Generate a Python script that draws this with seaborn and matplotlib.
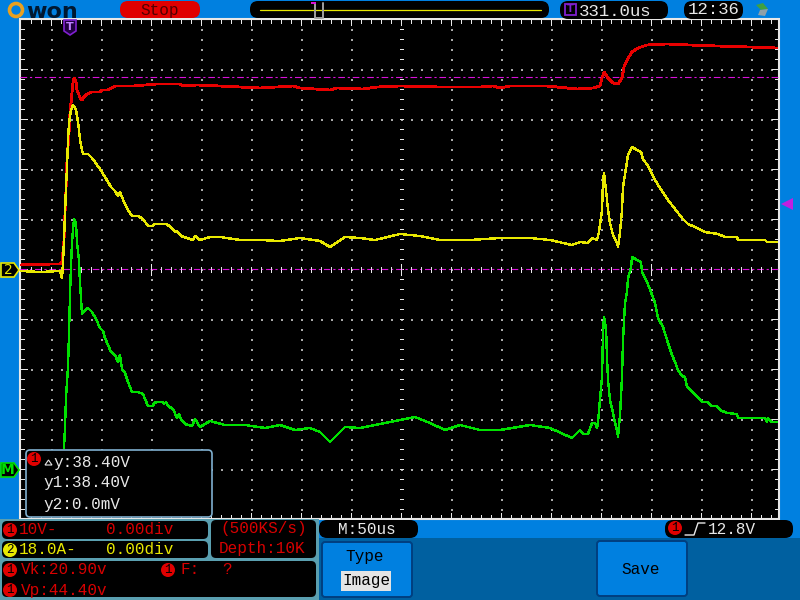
import matplotlib
matplotlib.use("Agg")
import matplotlib.pyplot as plt
import seaborn as sns
from matplotlib.patches import Rectangle, FancyBboxPatch, Circle, Polygon

# Trace readings, in screen pixels of the scope capture
red_x = [21, 30, 40, 50, 60, 62, 64, 65, 66, 67, 69, 70, 72, 73, 74, 76, 77, 79, 81, 82, 84, 87, 92, 100, 102, 108, 115,
         133, 157, 167, 180, 183, 197, 220, 240, 260, 293, 300, 330, 337, 363, 377, 400, 440, 480, 493, 500, 510, 547,
         567, 577, 593, 600, 602, 604, 608, 613, 618, 622, 624, 627, 632, 638, 647, 667, 690, 717, 750, 777]
red_y = [265, 264, 265, 264, 264, 262, 240, 213, 190, 160, 133, 113, 93, 82, 78, 82, 90, 95, 100, 100, 97, 94, 92, 92,
         90, 90, 86, 86, 84, 84, 84, 86, 85, 86, 87, 88, 86, 88, 90, 88, 89, 87, 86, 87, 87, 86, 88, 86, 86, 88, 89,
         88, 86, 78, 72, 78, 83, 84, 78, 67, 60, 52, 48, 45, 44, 45, 46, 47, 48]

yellow_x = [21, 40, 60, 62, 63, 64, 65, 66, 67, 68, 69, 71, 73, 74, 76, 78, 79, 80, 82, 83, 88, 92, 100, 105, 111, 115,
            118, 120, 122, 124, 128, 132, 138, 143, 148, 153, 154, 166, 171, 175, 177, 181, 187, 193, 195, 200, 210,
            220, 240, 260, 280, 300, 320, 330, 345, 360, 375, 400, 420, 440, 470, 500, 530, 550, 572, 580, 588, 592,
            597, 599, 602, 603, 604, 606, 608, 610, 613, 617, 618, 620, 622, 623, 626, 628, 632, 637, 641, 643, 648,
            655, 660, 668, 675, 682, 688, 695, 705, 718, 725, 737, 738, 765, 767, 777]
yellow_y = [271, 272, 271, 278, 263, 240, 213, 187, 167, 140, 123, 110, 105, 106, 110, 122, 130, 140, 150, 154, 154,
            158, 169, 177, 187, 191, 196, 192, 197, 202, 210, 216, 216, 219, 226, 226, 224, 224, 227, 232, 231, 236,
            238, 240, 236, 240, 237, 237, 240, 240, 241, 238, 241, 247, 237, 238, 240, 234, 236, 240, 240, 238, 238,
            240, 245, 242, 243, 238, 240, 232, 210, 182, 173, 190, 210, 223, 235, 243, 247, 232, 210, 187, 168, 155,
            147, 150, 152, 159, 166, 180, 188, 200, 209, 218, 224, 227, 232, 234, 237, 237, 240, 240, 242, 242]

green_x = [64, 65, 66, 68, 69, 70, 71, 72, 73, 74, 76, 77, 79, 80, 81, 82, 85, 88, 92, 96, 100, 103, 105, 108, 111, 115,
           118, 120, 122, 125, 128, 132, 138, 143, 148, 153, 154, 157, 163, 164, 166, 168, 173, 177, 179, 181, 185,
           192, 195, 200, 210, 225, 245, 265, 280, 295, 310, 320, 330, 345, 360, 375, 400, 415, 430, 445, 460, 480,
           500, 530, 550, 572, 580, 583, 588, 592, 595, 597, 598, 600, 602, 603, 604, 606, 607, 608, 610, 613, 615,
           617, 618, 620, 622, 623, 625, 627, 628, 631, 632, 637, 641, 642, 647, 651, 655, 658, 663, 668, 672, 675,
           678, 682, 685, 687, 693, 702, 707, 712, 717, 720, 727, 737, 738, 765, 767, 768, 771, 777]
green_y = [448, 427, 397, 367, 333, 295, 265, 243, 230, 219, 223, 243, 260, 283, 298, 314, 310, 308, 312, 319, 328,
           331, 338, 345, 352, 355, 362, 355, 369, 373, 382, 392, 392, 394, 406, 406, 403, 402, 402, 404, 402, 406,
           409, 418, 414, 419, 424, 426, 419, 427, 421, 425, 425, 428, 425, 430, 428, 432, 442, 427, 428, 425, 420,
           417, 423, 430, 425, 430, 430, 425, 428, 438, 430, 434, 434, 423, 423, 428, 422, 400, 377, 333, 317, 328,
           357, 380, 400, 413, 423, 430, 437, 415, 377, 340, 303, 292, 278, 268, 257, 260, 262, 272, 282, 292, 303,
           318, 327, 343, 355, 362, 370, 376, 377, 387, 392, 402, 402, 406, 406, 410, 413, 414, 418, 418, 422, 418,
           422, 422]

BLUE = "#0080e0"
DARK_BLUE = "#0060a0"
TEAL = "#5a9fb0"
RED = "#e80000"
TEXT_RED = "#d80000"
YELLOW = "#e8e800"
GREEN = "#00e000"
PURPLE = "#8020d0"
MAGENTA = "#d810d8"
WHITE = "#e8e8e8"
PX = 0.72  # one screen pixel in points

sns.set_style("white")
plt.rcParams["font.family"] = ["Liberation Mono", "DejaVu Sans Mono"]

fig = plt.figure(figsize=(8, 6), dpi=100, facecolor=BLUE)
ax = fig.add_axes([0, 0, 1, 1])
ax.set_xlim(0, 800)
ax.set_ylim(600, 0)
ax.axis("off")


def box(x0, y0, x1, y1, color="black", edge="none", pad=5, z=2, lw=1):
    ax.add_patch(FancyBboxPatch((x0 + pad, y0 + pad), x1 - x0 - 2 * pad, y1 - y0 - 2 * pad,
                                boxstyle=f"round,pad={pad},rounding_size={pad}", fc=color, ec=edge, lw=lw, zorder=z))


def label(x, y, s, color=WHITE, size=11.5, ha="left", z=9):
    ax.text(x, y, s, color=color, fontsize=size, ha=ha, va="center", zorder=z)


def badge(x, y, s="1", color="#e00000", txt="black", r=7):
    ax.add_patch(Circle((x, y), r, fc=color, ec="none", zorder=8))
    ax.text(x, y, s, color=txt, fontsize=9, ha="center", va="center", zorder=9)


def hair(xs, ys, color=WHITE, z=2):
    ax.plot(xs, ys, color=color, lw=PX, antialiased=False, zorder=z, solid_capstyle="butt")


# screen area and frame
ax.add_patch(Rectangle((20, 19), 759, 500, fc="black", ec=WHITE, lw=1.5, zorder=1))

# dotted grid
grid_xs = [x for x in range(51, 760, 50) if x != 401]
grid_ys = [y for y in range(69, 470, 50) if y != 269]
fine_xs = list(range(31, 778, 10))
fine_ys = list(range(29, 518, 10))
dot_style = dict(s=0.8, c="#a8a8a8", marker="s", linewidths=0, zorder=2, antialiased=True)
for gx in grid_xs:
    ax.scatter([gx + 0.5] * len(fine_ys), [fy + 0.5 for fy in fine_ys], **dot_style)
for gy in grid_ys:
    ax.scatter([fx + 0.5 for fx in fine_xs], [gy + 0.5] * len(fine_xs), **dot_style)

# frame ticks and centre cross
for tx in fine_xs:
    size = 5 if (tx - 1) % 50 == 0 else 3
    hair([tx, tx], [20, 20 + size])
    hair([tx, tx], [518, 518 - size])
    hair([tx, tx], [267, 272], z=3.5)
for ty in fine_ys:
    size = 6 if (ty - 19) % 50 == 0 else 3
    hair([21, 21 + size], [ty, ty])
    hair([778, 778 - size], [ty, ty])
    hair([400, 403], [ty, ty])
for tx in [151, 401, 651]:
    hair([tx, tx], [264, 275], z=3.5)

# trigger level lines
for ly in [77, 269]:
    ax.plot([20, 778], [ly, ly], color=MAGENTA, lw=0.8, ls=(0, (6, 2.5, 2, 2.5)), zorder=3)

# traces
sns.lineplot(x=red_x, y=red_y, color=RED, lw=1.3, estimator=None, sort=False, ax=ax, zorder=4, antialiased=False)
sns.lineplot(x=yellow_x, y=yellow_y, color=YELLOW, lw=1.0, estimator=None, sort=False, ax=ax, zorder=5,
             antialiased=False)
sns.lineplot(x=green_x, y=green_y, color=GREEN, lw=1.0, estimator=None, sort=False, ax=ax, zorder=6,
             antialiased=False)
ax.set_xlim(0, 800)
ax.set_ylim(600, 0)

# top bar: logo
ax.add_patch(Circle((16, 10), 6.5, fc="none", ec="#e8a020", lw=2.6, zorder=3))
ax.text(26, 17.5, "won", color="#001830", fontsize=16, fontweight="bold", family="DejaVu Sans", ha="left",
        va="baseline", zorder=3)

# top bar: stop pill and time base strip
box(120, 1, 200, 18, color="#e00000", pad=8)
label(160, 10, "Stop", color="#500000", ha="center")
box(250, 1, 549, 18, pad=8)
ax.plot([260, 541], [9.5, 9.5], color=YELLOW, lw=0.9, zorder=3)
ax.plot([315, 315], [3, 18], color="#a0a0a0", lw=1.4, zorder=4)
ax.plot([323, 323], [3, 18], color="#a0a0a0", lw=1.4, zorder=4)
ax.plot([316, 322], [18, 18], color="#a0a0a0", lw=1.4, zorder=4)
ax.add_patch(Rectangle((311, 2), 5, 2, fc=MAGENTA, ec="none", zorder=5))

# top bar: trigger time, clock, usb
box(560, 1, 668, 19, pad=8)
ax.add_patch(Rectangle((565, 4), 11, 11, fc="none", ec=PURPLE, lw=1.3, zorder=4))
ax.text(570.5, 9.5, "T", color=PURPLE, fontsize=7, fontweight="bold", family="DejaVu Sans", ha="center", va="center",
        zorder=5)
label(579, 11, "331.0us", size=12.5)
box(684, 1, 743, 19, pad=8)
label(713.5, 10, "12:36", size=12.5, ha="center")
ax.add_patch(Polygon([[756, 5], [763, 3], [768, 9], [761, 10]], fc="#40a040", ec="none", zorder=3))
ax.add_patch(Polygon([[760, 10], [768, 9], [765, 16], [758, 15]], fc="#90a0a8", ec="none", zorder=3))

# trigger position marker
ax.add_patch(Polygon([[64, 20], [76, 20], [76, 31], [70, 35], [64, 31]], fc="#200040", ec=PURPLE, lw=1.2, zorder=7))
ax.text(70, 27, "T", color="#c080ff", fontsize=8, fontweight="bold", family="DejaVu Sans", ha="center", va="center",
        zorder=8)

# side markers
ax.add_patch(Polygon([[781, 204], [793, 198], [793, 210]], fc="#c020e0", ec="none", zorder=7))
ax.add_patch(Polygon([[1, 263], [14, 263], [19, 270], [14, 277], [1, 277]], fc="black", ec=YELLOW, lw=1.2, zorder=7))
ax.text(8, 270, "2", color=YELLOW, fontsize=10, family="DejaVu Sans", ha="center", va="center", zorder=8)
ax.add_patch(Polygon([[1, 463], [14, 463], [19, 470], [14, 477], [1, 477]], fc="black", ec=GREEN, lw=1.2, zorder=7))
ax.text(8, 470, "M", color=GREEN, fontsize=10, fontweight="bold", family="DejaVu Sans", ha="center", va="center",
        zorder=8)

# cursor readout
box(26, 450, 212, 517, edge="#80b0d0", pad=4, z=7, lw=1.2)
badge(34, 459)
ax.add_patch(Polygon([[45, 465], [52, 465], [48.5, 460]], fc="none", ec=WHITE, lw=0.8, zorder=9))
label(53, 462, "y:38.40V")
label(43, 483, "y1:38.40V")
label(43, 504, "y2:0.0mV")

# bottom panels
ax.add_patch(Rectangle((0, 519), 319, 81, fc=TEAL, ec="none", zorder=1))
ax.add_patch(Rectangle((319, 538), 481, 62, fc=DARK_BLUE, ec="none", zorder=1))
box(2, 521, 208, 539, pad=5)
box(2, 541, 208, 558, pad=5)
box(211, 520, 316, 558, pad=5)
box(2, 561, 316, 597, pad=5)
badge(10, 530)
label(19, 530, "10V-", color=TEXT_RED)
label(106, 530, "0.00div", color=TEXT_RED)
badge(10, 550, s="2", color=YELLOW)
label(19, 550, "18.0A-", color=YELLOW)
label(106, 550, "0.00div", color=YELLOW)
label(220, 529, "(500KS/s)", color=TEXT_RED)
label(219, 549, "Depth:10K", color=TEXT_RED)
badge(10, 570)
label(21, 570, "Vk:20.90v", color=TEXT_RED)
badge(168, 570)
label(181, 570, "F:", color=TEXT_RED)
label(222, 570, "?", color=TEXT_RED)
badge(10, 590)
label(21, 590, "Vp:44.40v", color=TEXT_RED)

# time base and trigger pills
box(319, 520, 418, 538, pad=8)
label(338, 529, "M:50us")
box(665, 520, 793, 538, pad=8)
badge(675, 528)
ax.plot([685, 694, 698, 705], [535, 535, 523, 523], color=WHITE, lw=1, zorder=9)
label(708, 530, "12.8V")

# soft buttons
box(322, 542, 412, 597, color=BLUE, edge="#003f80", pad=3, lw=1.4)
label(365, 557, "Type", color="black", ha="center")
ax.add_patch(Rectangle((341, 571), 50, 20, fc="#e4e4e4", ec="none", zorder=8))
label(366, 581, "Image", color="black", ha="center")
box(597, 541, 687, 596, color=BLUE, edge="#003f80", pad=3, lw=1.4)
label(641, 569, "Save", color="black", ha="center")

fig.savefig("out.png", dpi=100, facecolor=BLUE)
plt.close(fig)
